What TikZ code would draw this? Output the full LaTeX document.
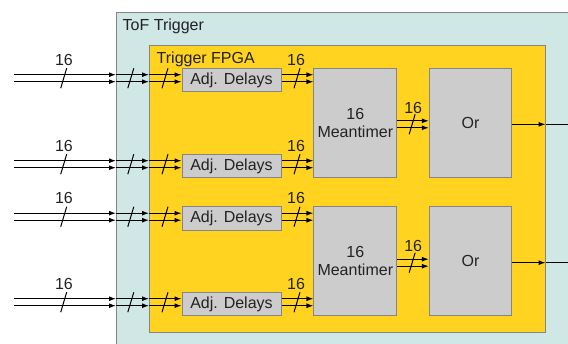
\documentclass[tikz,border=0pt]{standalone}
\usepackage{fontspec}
\setmainfont{Liberation Sans}
\usetikzlibrary{arrows.meta,calc}
\definecolor{tofbg}{HTML}{CFE7E5}
\definecolor{fpgabg}{HTML}{FFD320}
\definecolor{boxgray}{HTML}{CCCCCC}
\definecolor{edgegray}{HTML}{858585}
\definecolor{txt}{HTML}{222222}
\begin{document}
\begin{tikzpicture}[x=1pt,y=-1pt,
  font=\fontsize{16}{18.5}\selectfont,
  container/.style={draw=edgegray, line width=1pt, anchor=north west, inner sep=0pt},
  gbox/.style={draw=edgegray, fill=boxgray, line width=1pt, inner sep=0pt, text=txt, align=center},
  arr/.style={line width=1.1pt, -{Latex[length=7pt,width=5pt]}},
  slash/.style={line width=1pt},
  lbl/.style={text=txt, inner sep=0pt}]
\useasboundingbox (0,0) rectangle (568,343);
\clip (0,0) rectangle (568,343);
% containers
\node[container, fill=tofbg, minimum width=470pt, minimum height=350pt] (tof) at (116,12) {};
\node[container, fill=fpgabg, minimum width=395.5pt, minimum height=286.5pt] (fpga) at (149,45) {};
\node[lbl, anchor=base west] (toflbl) at (122.5,30.5) {ToF Trigger};
\node[lbl, anchor=base west] (fpgalbl) at (156.5,63) {Trigger FPGA};
% meantimers and ors
\node[gbox, minimum width=82.7pt, minimum height=109pt] (m1) at (355.3,122.8) {16\\Meantimer};
\node[gbox, minimum width=82.7pt, minimum height=109pt] (m2) at (355.3,261.2) {16\\Meantimer};
\node[gbox, minimum width=82.4pt, minimum height=109pt] (o1) at (470.5,122.8) {Or};
\node[gbox, minimum width=82.4pt, minimum height=109pt] (o2) at (470.5,261.2) {Or};
% input rows
\foreach \i/\r/\m in {1/78.2/1,2/164.2/1,3/216.7/2,4/302.2/2} {
  \coordinate (in\i) at (14,\r);
  \node[gbox, minimum width=99pt, minimum height=23.5pt] (d\i) at (231.5,\r+1.8) {Adj. Delays};
  \foreach \s in {-3.5,3.5} {
    \coordinate (a) at ($(in\i)+(0,\s)$);
    \draw[arr] (a) -- (a -| tof.west);
    \draw[arr] (a -| tof.west) -- (a -| fpga.west);
    \draw[arr] (a -| fpga.west) -- (a -| d\i.west);
    \draw[arr] (a -| d\i.east) -- (a -| m\m.west);
  }
  \draw[slash] ($(in\i)+(49.7,0)$) +(3,-10) -- +(-3,10);
  \draw[slash] ($(in\i -| tof.west)+(14.8,0)$) +(3,-10) -- +(-3,10);
  \draw[slash] ($(in\i -| fpga.west)+(16,0)$) +(3,-10) -- +(-3,10);
  \draw[slash] ($(in\i -| d\i.east)+(15.5,0)$) +(3,-10) -- +(-3,10);
  \node[lbl] (la\i) at ($(in\i)+(50,-18.5)$) {16};
  \node[lbl] (lb\i) at ($(in\i -| d\i.east)+(14.5,-18.5)$) {16};
}
% meantimer -> or -> out
\foreach \k in {1,2} {
  \coordinate (b\k) at ($(m\k.east)+(0,1.5)$);
  \foreach \s in {-3.5,3.5} {
    \coordinate (a) at ($(b\k)+(0,\s)$);
    \draw[arr] (a) -- (a -| o\k.west);
  }
  \draw[slash] ($(b\k)+(15,0)$) +(3,-10) -- +(-3,10);
  \node[lbl] (lc\k) at ($(b\k)+(16,-16.5)$) {16};
  \coordinate (out\k) at ($(o\k.east)+(70,1.5)$);
  \draw[line width=1pt, -{Latex[length=7pt,width=5pt]}] (out\k -| o\k.east) -- (out\k -| fpga.east);
  \draw[line width=1pt] (out\k -| fpga.east) -- (out\k);
}
\end{tikzpicture}
\end{document}
